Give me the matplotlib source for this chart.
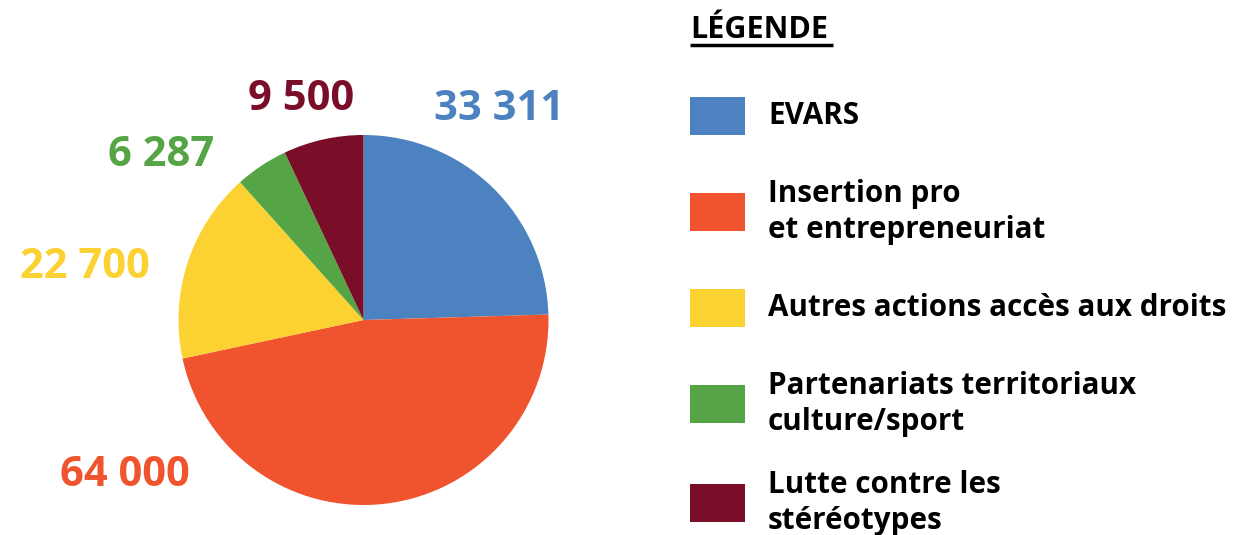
import matplotlib
matplotlib.use("Agg")
import matplotlib.pyplot as plt
from matplotlib.patches import Rectangle

categories = ["EVARS", "Insertion pro\net entrepreneuriat", "Autres actions accès aux droits",
              "Partenariats territoriaux\nculture/sport", "Lutte contre les\nstéréotypes"]
values = [33311, 64000, 22700, 6287, 9500]
value_labels = ["33 311", "64 000", "22 700", "6 287", "9 500"]
colors = ["#4C82BF", "#F0542E", "#FCD132", "#55A546", "#7A0E28"]

W, H = 1234, 535
fig = plt.figure(figsize=(W / 100, H / 100), dpi=100)
ax = fig.add_axes([0, 0, 1, 1])
ax.set_xlim(0, W)
ax.set_ylim(0, H)
ax.set_aspect("equal")
ax.axis("off")

FONT = ["Open Sans", "DejaVu Sans"]

def Y(y):
    return H - y

ax.pie(values, colors=colors, startangle=90, counterclock=False,
       center=(363.5, Y(320)), radius=185, wedgeprops=dict(linewidth=0))
ax.set_xlim(0, W)
ax.set_ylim(0, H)

label_pos = [(499, 110), (125, 475), (85, 267), (161, 155), (301, 99)]
for (x, y), txt, c in zip(label_pos, value_labels, colors):
    ax.text(x, Y(y), txt, color=c, fontsize=30, fontweight="bold", family=FONT,
            ha="center", va="center")

# Legend
ax.text(690, Y(30), "LÉGENDE", fontsize=22, fontweight="bold", family=FONT,
        ha="left", va="center", color="black")
ax.plot([690, 833], [Y(45), Y(45)], color="black", lw=2.5, solid_capstyle="butt")

box_y = [116, 212, 308, 404, 503]
for yc, cat, c in zip(box_y, categories, colors):
    ax.add_patch(Rectangle((690, Y(yc + 19)), 55, 38, color=c, lw=0))
    ax.text(768, Y(yc), cat, fontsize=21.3, fontweight="bold", family=FONT,
            ha="left", va="center", color="black", linespacing=1.27)

fig.savefig("out.png", dpi=100)
